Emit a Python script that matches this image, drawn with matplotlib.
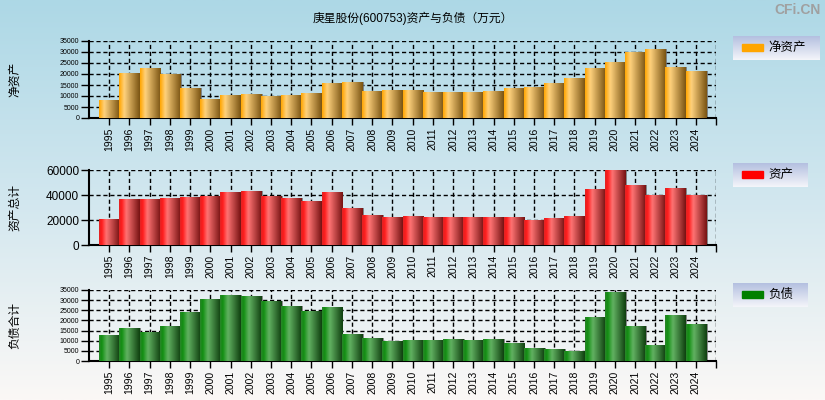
import matplotlib
matplotlib.use("Agg")
import matplotlib.pyplot as plt
import numpy as np
from matplotlib.colors import LinearSegmentedColormap
from matplotlib.patches import Rectangle

plt.rcParams["font.family"] = ["Liberation Sans", "Noto Sans CJK SC", "DejaVu Sans"]

years = [str(y) for y in range(1995, 2025)]

net_assets = [8200, 20500, 22700, 20000, 13600, 8800, 10450, 10900, 10000, 10450,
              11350, 15900, 16350, 12250, 12700, 12700, 11800, 11800, 11800, 12250,
              13600, 14100, 15900, 18200, 22700, 25450, 30000, 31350, 23200, 21350]
total_assets = [20800, 36800, 36800, 37600, 38400, 39200, 42400, 43200, 39200, 37600,
                35200, 42400, 29600, 24000, 22400, 23200, 22400, 22400, 22400, 22400,
                22400, 20000, 21600, 23200, 44800, 60000, 48000, 40000, 45600, 40000]
liabilities = [12800, 16250, 14300, 17250, 24150, 30550, 32550, 32050, 29550, 27100,
               24650, 26600, 13300, 11350, 9850, 10350, 10350, 10850, 10350, 10850,
               8850, 6400, 5900, 4950, 21700, 34000, 17250, 7900, 22650, 18250]

title = "庚星股份(600753)资产与负债（万元）"

panels = [
    dict(values=net_assets, ylabel="净资产", legend="净资产", color="#FFA500",
         stops=[(0, "#FFA500"), (0.25, "#FFD27E"), (1, "#7A5412")],
         yticks=[0, 5000, 10000, 15000, 20000, 25000, 30000, 35000], ysize=5,
         rect=[89, 41, 716, 118], leg=[733, 36, 820, 60]),
    dict(values=total_assets, ylabel="资产总计", legend="资产", color="#FF0000",
         stops=[(0, "#E02424"), (0.12, "#FF1A1A"), (0.35, "#FF7474"), (1, "#761212")],
         yticks=[0, 20000, 40000, 60000], ysize=8.5,
         rect=[89, 170, 716, 245], leg=[733, 163, 808, 187]),
    dict(values=liabilities, ylabel="负债合计", legend="负债", color="#008000",
         stops=[(0, "#2A852A"), (0.12, "#108E10"), (0.38, "#62B262"), (1, "#0F3F0F")],
         yticks=[0, 5000, 10000, 15000, 20000, 25000, 30000, 35000], ysize=5,
         rect=[89, 290, 716, 361], leg=[733, 283, 808, 307]),
]

W, H = 825, 400
fig = plt.figure(figsize=(W / 100, H / 100), dpi=100)


def fig_rect(r):
    x0, y0, x1, y1 = r
    return [x0 / W, 1 - y1 / H, (x1 - x0) / W, (y1 - y0) / H]


# background gradient
bg = fig.add_axes([0, 0, 1, 1], zorder=-10)
bg_cmap = LinearSegmentedColormap.from_list("bg", ["#ADD8E6", "#D2E7EF", "#FBF8F6"])
bg.imshow(np.linspace(0, 1, 256).reshape(-1, 1), cmap=bg_cmap, aspect="auto",
          extent=[0, 1, 0, 1])
bg.set_axis_off()

fig.text(0.5, 0.955, title, ha="center", va="center", fontsize=8.5)
fig.text(0.995, 0.975, "CFi.CN", ha="right", va="center", fontsize=10,
         color="#A0A0A0", fontweight="bold")

x = np.arange(len(years))
grad = np.linspace(0, 1, 64).reshape(1, -1)

for p in panels:
    ax = fig.add_axes(fig_rect(p["rect"]))
    ax.patch.set_alpha(0)
    cmap = LinearSegmentedColormap.from_list("g", p["stops"])
    ymax = p["yticks"][-1]

    # shadows
    ax.bar(x + 0.08, p["values"], width=1.0, color="#707070", alpha=0.8, zorder=2)
    bars = ax.bar(x, p["values"], width=1.0, color="none", zorder=3)
    for b in bars:
        im = ax.imshow(grad, cmap=cmap, aspect="auto", interpolation="bicubic",
                       extent=[b.get_x(), b.get_x() + b.get_width(), 0, b.get_height()],
                       zorder=3)
        im.set_clip_path(b)

    ax.set_xlim(-1, 30)
    ax.set_ylim(0, ymax)
    ax.set_yticks(p["yticks"])
    ax.set_yticklabels([str(v) for v in p["yticks"]], fontsize=p["ysize"])
    ax.set_xticks(list(x) + [30])
    ax.set_xticklabels(years + [""], rotation=90, fontsize=7.5)
    ax.tick_params(axis="both", length=5, width=1, color="black", pad=2)
    ax.tick_params(axis="y", length=6, pad=1)

    for yv in p["yticks"][1:]:
        ax.axhline(yv, color="black", lw=1, ls=(0, (3, 2)), zorder=1)
    for xv in list(x) + [30]:
        ax.axvline(xv, color="black", lw=1, ls=(0, (3, 2)), zorder=1)

    for s in ("top", "right"):
        ax.spines[s].set_visible(False)
    ax.spines["left"].set_linewidth(1.5)
    ax.spines["bottom"].set_linewidth(1.5)

    # y label
    cy = 1 - (p["rect"][1] + p["rect"][3]) / 2 / H
    fig.text(15 / W, cy, p["ylabel"], rotation=90, ha="center", va="center", fontsize=8.5)

    # legend box
    lax = fig.add_axes(fig_rect(p["leg"]), zorder=5)
    leg_cmap = LinearSegmentedColormap.from_list("l", ["#B4C0E0", "#F4F5FA"])
    lax.imshow(np.linspace(0, 1, 64).reshape(-1, 1), cmap=leg_cmap, aspect="auto",
               extent=[0, 1, 0, 1])
    lax.set_xlim(0, 1)
    lax.set_ylim(0, 1)
    lw_px = p["leg"][2] - p["leg"][0]
    lax.add_patch(Rectangle((9 / lw_px, 0.38), 21 / lw_px, 0.3, color=p["color"]))
    lax.text(35 / lw_px, 0.5, p["legend"], va="center", ha="left", fontsize=9)
    lax.set_axis_off()

fig.savefig("out.png", dpi=100)
